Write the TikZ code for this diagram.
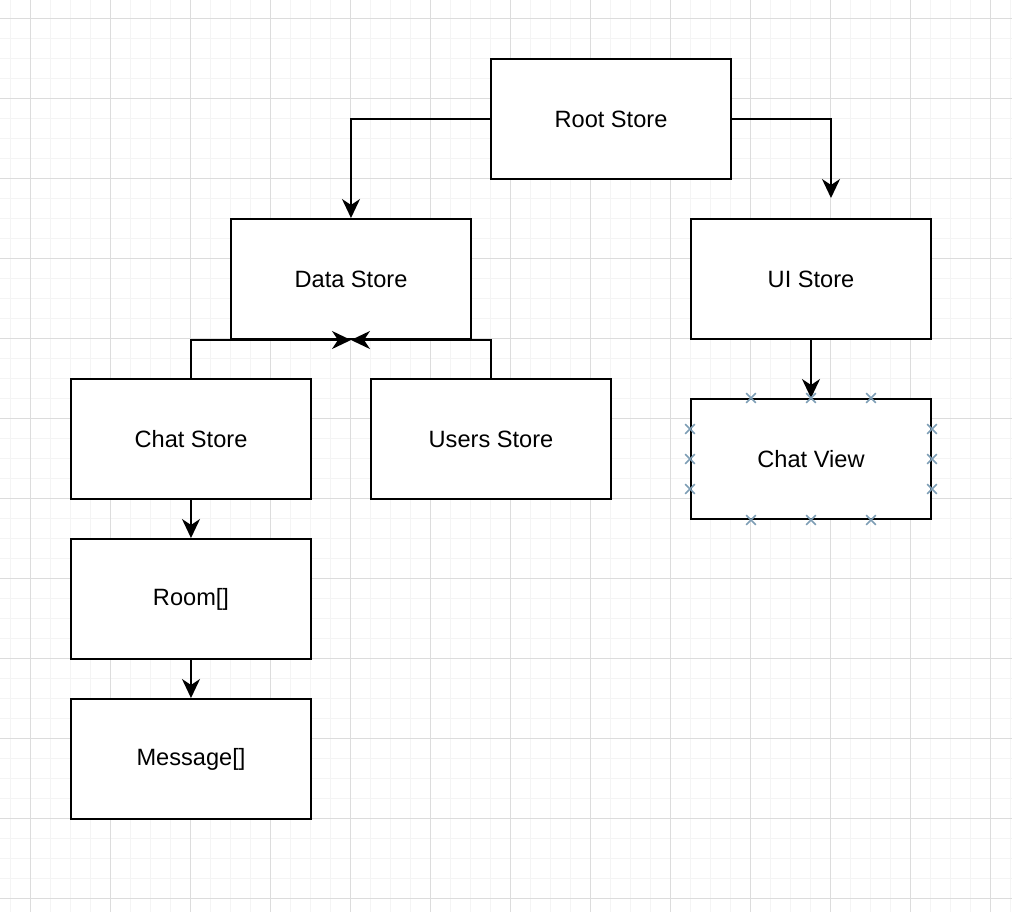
\documentclass[tikz,border=0pt]{standalone}
\usepackage{fontspec}
\setmainfont{Liberation Sans}
\usetikzlibrary{arrows.meta,shapes.misc}
\definecolor{gridminor}{HTML}{F4F4F4}
\definecolor{gridmajor}{HTML}{DCDCDC}
\definecolor{handleblue}{HTML}{7D9DB5}
\tikzset{
  store/.style={draw,line width=1pt,fill=white,minimum width=120pt,minimum height=60pt,inner sep=0pt,font=\fontsize{11.8}{14}\selectfont},
  link/.style={line width=1pt,-{Stealth[length=9.5pt,width=9pt,inset=3pt]}},
  handle/.style={cross out,draw=handleblue,line width=0.8pt,minimum size=4pt,inner sep=0pt}
}
\begin{document}
\begin{tikzpicture}[x=0.5pt,y=-0.5pt]
\useasboundingbox[fill=white] (0,0) rectangle (1012,912);

% grid
\foreach \i in {10,30,...,1010}{
\draw[gridminor,line width=0.5pt] (\i,0) -- (\i,912);
}
\foreach \j in {18,38,...,898}{
\draw[gridminor,line width=0.5pt] (0,\j) -- (1012,\j);
}
\foreach \i in {30,110,...,990}{
\draw[gridmajor,line width=0.5pt] (\i,0) -- (\i,912);
}
\foreach \j in {18,98,...,898}{
\draw[gridmajor,line width=0.5pt] (0,\j) -- (1012,\j);
}

% stores
\node[store] (root) at (611,119) {Root Store};
\node[store] (data) at (351,279) {Data Store};
\node[store] (ui) at (811,279) {UI Store};
\node[store] (chat) at (191,439) {Chat Store};
\node[store] (users) at (491,439) {Users Store};
\node[store] (view) at (811,459) {Chat View};
\node[store] (room) at (191,599) {Room[]};
\node[store] (msg) at (191,759) {Message[]};

% links
\coordinate (uitip) at (831,198);
\draw[link] (root.west) -| (data.north);
\draw[link] (root.east) -| (uitip);
\draw[link] (chat.north) |- (data.south);
\draw[link] (users.north) |- (data.south);
\draw[link] (ui.south) -- (view.north);
\draw[link] (chat.south) -- (room.north);
\draw[link] (room.south) -- (msg.north);

% handles on the selected box
\foreach \d in {-60,0,60}{
\path (view.north) ++(\d,0) node[handle] {};
\path (view.south) ++(\d,0) node[handle] {};
}
\foreach \d in {-30,0,30}{
\path (view.west) ++(0,\d) node[handle] {};
\path (view.east) ++(0,\d) node[handle] {};
}
\end{tikzpicture}
\end{document}
